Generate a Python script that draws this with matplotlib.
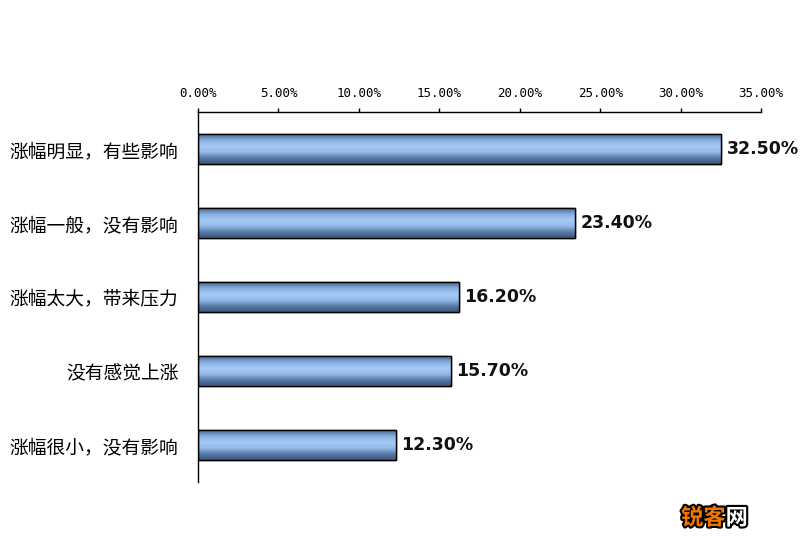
import numpy as np
import matplotlib
matplotlib.use('Agg')
import matplotlib.pyplot as plt
import matplotlib.patheffects as pe
from matplotlib.colors import LinearSegmentedColormap

plt.rcParams['font.family'] = ['Noto Sans CJK SC', 'DejaVu Sans']

# Data
categories = ['涨幅明显，有些影响', '涨幅一般，没有影响', '涨幅太大，带来压力',
              '没有感觉上涨', '涨幅很小，没有影响']
values = [32.5, 23.4, 16.2, 15.7, 12.3]
xticks = [0, 5, 10, 15, 20, 25, 30, 35]

fig = plt.figure(figsize=(8, 5.5), dpi=100)
ax = fig.add_axes([0.2475, 0.1236, 0.704, 0.6727])

ypos = np.arange(len(categories))
bars = ax.barh(ypos, values, height=0.4, color='#8fb5e0', edgecolor='black',
               linewidth=1.0, zorder=2)

# vertical gradient on each bar (dark edges, light middle)
cmap = LinearSegmentedColormap.from_list(
    'bar', ['#4a6890', '#86afe0', '#a6cbf4', '#93bbea', '#5a7ca8', '#3a5678'])
grad = np.linspace(0, 1, 64).reshape(-1, 1)
for b in bars:
    x0, y0 = b.get_x(), b.get_y()
    w, h = b.get_width(), b.get_height()
    im = ax.imshow(grad, cmap=cmap, aspect='auto', extent=(x0, x0 + w, y0 + h, y0),
                   zorder=2.5, interpolation='bilinear')
    im.set_clip_path(b)
    ax.add_patch(plt.Rectangle((x0, y0), w, h, fill=False, edgecolor='black',
                               linewidth=1.0, zorder=3))

for y, v in zip(ypos, values):
    ax.text(v + 0.35, y, f'{v:.2f}%', va='center', ha='left', fontsize=12.5,
            fontweight='bold', family='DejaVu Sans', color='#111111')

ax.set_xlim(0, 35)
ax.set_ylim(len(categories) - 0.5, -0.5)
ax.set_xticks(xticks)
ax.set_xticklabels([f'{t:.2f}%' for t in xticks], fontsize=9,
                   family='DejaVu Sans Mono')
ax.xaxis.tick_top()
ax.tick_params(axis='x', direction='out', length=3, width=1, pad=6, colors='black')
ax.set_yticks(ypos)
ax.set_yticklabels(categories, fontsize=13.5)
ax.tick_params(axis='y', length=0, pad=14)

ax.spines['right'].set_visible(False)
ax.spines['bottom'].set_visible(False)
ax.spines['top'].set_linewidth(1)
ax.spines['left'].set_linewidth(1)

fig.text(0.907, 0.058, '锐客', color='#f07800', fontsize=16, fontweight='bold',
         ha='right', va='center',
         path_effects=[pe.withStroke(linewidth=3, foreground='black')])
fig.text(0.907, 0.058, '网', color='white', fontsize=16, fontweight='bold',
         ha='left', va='center',
         path_effects=[pe.withStroke(linewidth=3, foreground='black')])

fig.savefig('out.png', dpi=100)
